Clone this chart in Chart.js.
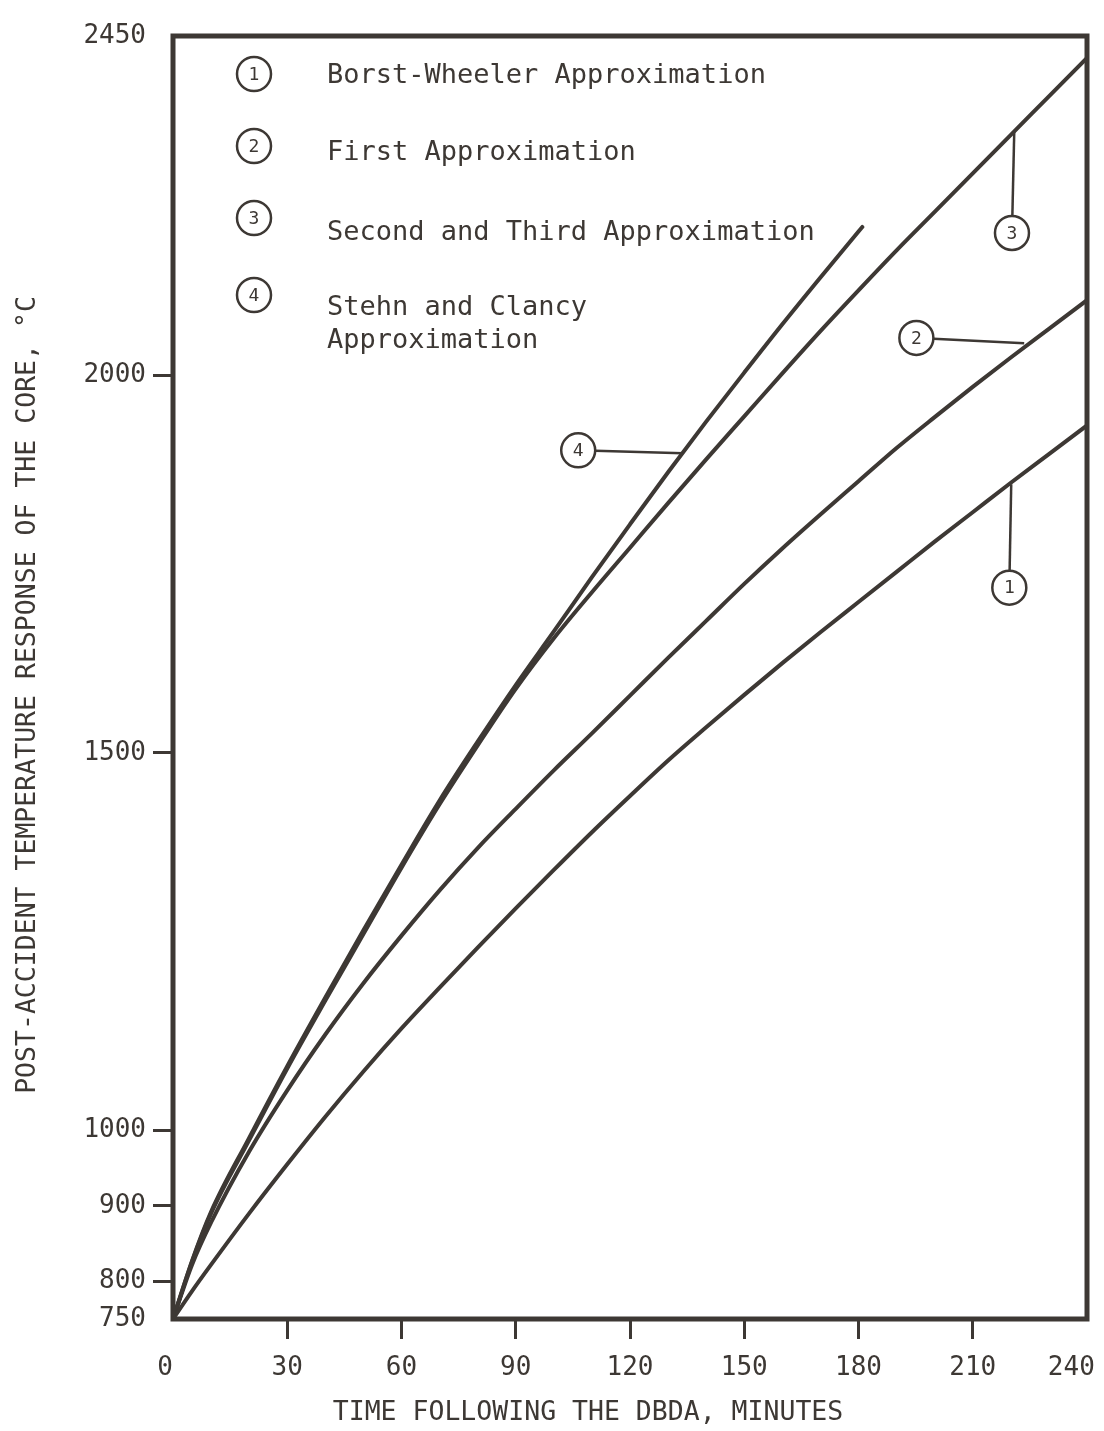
<!DOCTYPE html>
<html>
<head>
<meta charset="utf-8">
<script src="https://cdn.jsdelivr.net/npm/chart.js@4.4.1/dist/chart.umd.min.js"></script>
<style>
  html, body { margin: 0; padding: 0; background: #ffffff; }
  #wrap { width: 1104px; height: 1431px; position: relative; }
</style>
</head>
<body>
<div id="wrap"><canvas id="c" width="1104" height="1431"></canvas></div>
<script>
// ---------------- DATA ----------------
const timeMinutes = [0,5,10,20,30,40,50,60,70,80,90,100,110,120,130,140,150,160,170,180,190,200,210,220,230,240];
const borstWheeler      = [750,787,822,890,955,1018,1078,1135,1189,1242,1294,1345,1395,1443,1490,1534,1577,1619,1660,1700,1740,1780,1819,1858,1896,1934];
const firstApprox       = [750,822,878,972,1053,1127,1195,1258,1318,1374,1426,1477,1526,1576,1626,1675,1724,1771,1816,1860,1904,1945,1985,2024,2062,2100];
const secondThirdApprox = [750,826,890,987,1082,1172,1260,1348,1432,1510,1585,1652,1713,1772,1831,1889,1946,2003,2059,2113,2166,2217,2268,2319,2370,2421];
const stehnClancyTime   = [0,5,10,20,30,40,50,60,70,80,90,100,110,120,130,140,150,160,170,180,181];
const stehnClancy       = [750,827,892,990,1085,1176,1265,1352,1437,1515,1590,1661,1733,1803,1872,1939,2004,2068,2130,2191,2197];

const xTickValues = [0,30,60,90,120,150,180,210,240];
const yTickValues = [750,800,900,1000,1500,2000,2450];

const seriesNumbers = ['1','2','3','4'];
const seriesNames = ['Borst-Wheeler Approximation','First Approximation','Second and Third Approximation','Stehn and Clancy Approximation'];
const legendLines = [['Borst-Wheeler Approximation'],['First Approximation'],['Second and Third Approximation'],['Stehn and Clancy','Approximation']];

const xTitle = 'TIME FOLLOWING THE DBDA, MINUTES';
const yTitle = 'POST-ACCIDENT TEMPERATURE RESPONSE OF THE CORE, \u00B0C';

// callout circles (data coordinates): circle centre and the point on the curve the leader touches
const calloutCircleX = [219.6, 195.2, 220.3, 106.4];
const calloutCircleY = [1719, 2050, 2189, 1901];
const calloutAnchorX = [220.1, 223.5, 220.9, 133.9];
const calloutAnchorY = [1856, 2043, 2324, 1897];

// ---------------- STYLE ----------------
const INK = '#3d3834';
const FONT = '"DejaVu Sans Mono", "Liberation Mono", monospace';

const toXY = (xs, ys) => xs.map((x, i) => ({x: x, y: ys[i]}));

const decorPlugin = {
  id: 'decor',
  afterDraw(chart) {
    const {ctx, chartArea: a, scales} = chart;
    const xs = scales.x, ys = scales.y;
    ctx.save();
    // frame
    ctx.strokeStyle = INK;
    ctx.lineWidth = 5;
    ctx.lineJoin = 'miter';
    ctx.strokeRect(a.left, a.top, a.right - a.left, a.bottom - a.top);

    // legend block
    const rowCircleY = [38, 110, 182, 259];
    const rowBaseY = [[47], [124], [204], [279, 312]];
    ctx.fillStyle = INK;
    ctx.strokeStyle = INK;
    for (let i = 0; i < seriesNumbers.length; i++) {
      const cx = a.left + 81, cy = a.top + rowCircleY[i];
      ctx.lineWidth = 2.5;
      ctx.beginPath(); ctx.arc(cx, cy, 17, 0, Math.PI * 2); ctx.stroke();
      ctx.font = '18px ' + FONT;
      ctx.textAlign = 'center'; ctx.textBaseline = 'middle';
      ctx.fillText(seriesNumbers[i], cx, cy + 1);
      ctx.font = '27px ' + FONT;
      ctx.textAlign = 'left'; ctx.textBaseline = 'alphabetic';
      legendLines[i].forEach((ln, j) => ctx.fillText(ln, a.left + 154, a.top + rowBaseY[i][j]));
    }

    // callouts on the curves
    for (let i = 0; i < seriesNumbers.length; i++) {
      const cx = xs.getPixelForValue(calloutCircleX[i]);
      const cy = ys.getPixelForValue(calloutCircleY[i]);
      const ax = xs.getPixelForValue(calloutAnchorX[i]);
      const ay = ys.getPixelForValue(calloutAnchorY[i]);
      const r = 17;
      const ang = Math.atan2(ay - cy, ax - cx);
      ctx.lineWidth = 2.5;
      ctx.beginPath();
      ctx.moveTo(cx + r * Math.cos(ang), cy + r * Math.sin(ang));
      ctx.lineTo(ax, ay);
      ctx.stroke();
      ctx.beginPath(); ctx.arc(cx, cy, r, 0, Math.PI * 2); ctx.stroke();
      ctx.font = '18px ' + FONT;
      ctx.textAlign = 'center'; ctx.textBaseline = 'middle';
      ctx.fillText(seriesNumbers[i], cx, cy + 1);
    }

    // axis titles
    ctx.font = '26.5px ' + FONT;
    ctx.textAlign = 'center'; ctx.textBaseline = 'middle';
    ctx.fillText(xTitle, 588, 1413);
    ctx.translate(28, 695);
    ctx.rotate(-Math.PI / 2);
    ctx.fillText(yTitle, 0, 0);
    ctx.restore();
  }
};

const tickColor = (hidden) => (c) => (c.tick && hidden.includes(c.tick.value)) ? 'rgba(0,0,0,0)' : INK;

new Chart(document.getElementById('c'), {
  type: 'line',
  data: {
    datasets: [
      { label: seriesNames[0], data: toXY(timeMinutes, borstWheeler) },
      { label: seriesNames[1], data: toXY(timeMinutes, firstApprox) },
      { label: seriesNames[2], data: toXY(timeMinutes, secondThirdApprox) },
      { label: seriesNames[3], data: toXY(stehnClancyTime, stehnClancy) }
    ].map(d => Object.assign(d, {
      borderColor: INK, borderWidth: 4, pointRadius: 0, fill: false,
      cubicInterpolationMode: 'monotone', borderCapStyle: 'round', borderJoinStyle: 'round'
    }))
  },
  options: {
    responsive: false,
    animation: false,
    devicePixelRatio: 1,
    layout: { padding: { top: 36, right: 17, left: 0, bottom: 0 } },
    plugins: { legend: { display: false }, tooltip: { enabled: false }, title: { display: false } },
    scales: {
      x: {
        type: 'linear', min: 0, max: 240,
        afterBuildTicks: s => { s.ticks = xTickValues.map(v => ({ value: v })); },
        afterFit: s => { s.height = 1431 - 1319; s.paddingLeft = 0; s.paddingRight = 0; },
        border: { display: false },
        grid: { drawOnChartArea: false, drawTicks: true, tickLength: 20, lineWidth: 3, color: tickColor([0, 240]) },
        ticks: {
          font: { family: FONT, size: 26 }, color: INK, padding: 14, maxRotation: 0, autoSkip: false,
          callback: v => v === 0 ? '0 ' : (v === 240 ? '240  ' : String(v))
        }
      },
      y: {
        type: 'linear', min: 750, max: 2450,
        afterBuildTicks: s => { s.ticks = yTickValues.map(v => ({ value: v })); },
        afterFit: s => { s.width = 173; s.paddingTop = 0; s.paddingBottom = 0; },
        border: { display: false },
        grid: { drawOnChartArea: false, drawTicks: true, tickLength: 20, lineWidth: 3, color: tickColor([750, 2450]) },
        ticks: { font: { family: FONT, size: 26 }, color: INK, padding: 7, autoSkip: false, callback: v => String(v) }
      }
    }
  },
  plugins: [decorPlugin]
});
</script>
</body>
</html>
